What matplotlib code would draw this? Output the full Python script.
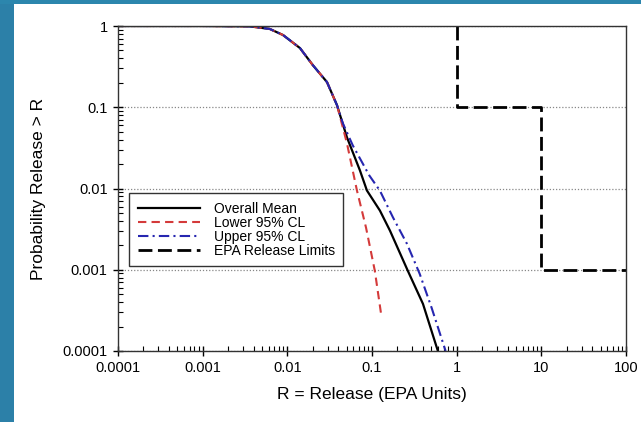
import matplotlib.pyplot as plt
from matplotlib.patches import Rectangle

plt.rcParams['font.family'] = ['Liberation Sans', 'DejaVu Sans']

# Complementary cumulative release curves (R, P(release > R))
mean_r = [0.0001, 0.001, 0.0036, 0.0062, 0.0089, 0.0141, 0.020, 0.0294, 0.0386,
          0.0506, 0.072, 0.0871, 0.124, 0.163, 0.265, 0.40, 0.60]
mean_p = [1.0, 1.0, 0.99, 0.92, 0.774, 0.535, 0.33, 0.204, 0.106,
          0.0426, 0.0167, 0.00945, 0.00535, 0.00303, 0.00097, 0.00038, 0.0001]

lower_r = [0.0001, 0.001, 0.0036, 0.0062, 0.0089, 0.0141, 0.020, 0.0294, 0.0386,
           0.0506, 0.0664, 0.085, 0.108, 0.128]
lower_p = [1.0, 1.0, 0.99, 0.92, 0.774, 0.535, 0.33, 0.204, 0.106,
           0.036, 0.00945, 0.0033, 0.00097, 0.000286]

upper_r = [0.0001, 0.001, 0.0036, 0.0062, 0.0089, 0.0141, 0.020, 0.0294, 0.0386,
           0.0453, 0.0593, 0.0928, 0.124, 0.177, 0.258, 0.366, 0.506, 0.74]
upper_p = [1.0, 1.0, 0.99, 0.92, 0.774, 0.535, 0.33, 0.204, 0.106,
           0.0634, 0.0339, 0.0145, 0.0094, 0.0044, 0.0021, 0.00089, 0.00034, 0.0001]

# EPA release limits (step function)
epa_r = [1, 1, 10, 10, 100]
epa_p = [1, 0.1, 0.1, 0.001, 0.001]

fig = plt.figure(figsize=(6.41, 4.22), dpi=100)
fig.patch.set_facecolor('white')
# blue slide border on the left and top
fig.patches.append(Rectangle((0, 0), 14 / 641, 1, transform=fig.transFigure,
                             facecolor='#2c80a8', edgecolor='none', zorder=0))
fig.patches.append(Rectangle((0, 1 - 4 / 422), 1, 4 / 422, transform=fig.transFigure,
                             facecolor='#2c86ad', edgecolor='none', zorder=0))

ax = fig.add_axes([118 / 641, 1 - 351 / 422, 508 / 641, 325 / 422])
ax.set_xscale('log')
ax.set_yscale('log')

ax.plot(mean_r, mean_p, color='black', lw=1.6, label='Overall Mean')
ax.plot(lower_r, lower_p, color='#d43a3a', lw=1.5, dashes=(4, 2.5), label='Lower 95% CL')
ax.plot(upper_r, upper_p, color='#2626b0', lw=1.5, dashes=(5, 2, 1, 2), label='Upper 95% CL')
ax.plot(epa_r, epa_p, color='black', lw=2, dashes=(5, 2), label='EPA Release Limits')

ax.set_xlim(0.0001, 100)
ax.set_ylim(0.0001, 1)

xt = [0.0001, 0.001, 0.01, 0.1, 1, 10, 100]
yt = [0.0001, 0.001, 0.01, 0.1, 1]
ax.set_xticks(xt)
ax.set_xticklabels(['0.0001', '0.001', '0.01', '0.1', '1', '10', '100'])
ax.set_yticks(yt)
ax.set_yticklabels(['0.0001', '0.001', '0.01', '0.1', '1'])

ax.tick_params(which='major', direction='inout', length=7, width=1, labelsize=10.5, pad=4)
ax.tick_params(which='minor', direction='in', length=3.5, width=0.8)
ax.tick_params(top=False, right=False, which='both')

ax.grid(axis='y', which='major', linestyle=(0, (1, 1.5)), color='#888888', lw=0.9)
ax.set_axisbelow(True)
for s in ax.spines.values():
    s.set_linewidth(1)
    s.set_color('#333333')

ax.set_xlabel('R = Release (EPA Units)', fontsize=12.5, labelpad=8)
ax.set_ylabel('Probability Release > R', fontsize=12.5, labelpad=12)

leg = ax.legend(loc='upper left', bbox_to_anchor=(0.022, 0.485), fontsize=10,
                frameon=True, fancybox=False, framealpha=1, edgecolor='#333333',
                handlelength=4.5, handletextpad=1.0, labelspacing=0.0,
                borderpad=0.6, borderaxespad=0)
leg.get_frame().set_linewidth(1)

fig.savefig('out.png', dpi=100)
